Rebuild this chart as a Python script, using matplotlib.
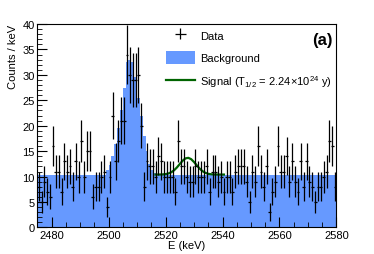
import numpy as np
import matplotlib
matplotlib.use('Agg')
import matplotlib.pyplot as plt

plt.rcParams['font.family'] = ['Liberation Sans', 'DejaVu Sans']
plt.rcParams['mathtext.fontset'] = 'custom'
plt.rcParams['mathtext.rm'] = 'Liberation Sans'
plt.rcParams['mathtext.it'] = 'Liberation Sans:italic'

# 1 keV bins from 2475 to 2580
E_LO, E_HI = 2475, 2580
counts = [8, 5, 9, 7, 6, 16, 11, 11, 7, 13,
          11, 12, 8, 13, 10, 17, 10, 15, 15, 6,
          8, 8, 10, 11, 4, 10, 22, 13, 17, 21,
          21, 34, 30, 29, 29, 30, 20, 8, 13, 12,
          12, 10, 14, 13, 10, 10, 10, 10, 7, 17,
          12, 12, 10, 9, 9, 12, 10, 10, 10, 12,
          7, 11, 11, 9, 10, 7, 10, 10, 7, 11,
          12, 12, 12, 9, 5, 11, 9, 16, 11, 8,
          12, 3, 7, 9, 16, 11, 11, 14, 9, 13,
          9, 7, 13, 8, 13, 9, 8, 5, 8, 8,
          10, 11, 17, 16, 8]

# background: flat level with the peak around 2506 keV (bins 2499..2516)
bg_level = 10.4
bg_peak_start = 2499
bg_peak = [11.3, 12.3, 14.0, 16.5, 19.5, 23.0, 27.5, 32.5, 33.0, 32.5,
           29.5, 25.5, 22.0, 18.0, 15.0, 12.5, 11.3, 10.7]

# signal curve (background + signal)
sig_e = [2516.5, 2518, 2519, 2520, 2521, 2522, 2523, 2524, 2525, 2526, 2527,
         2528, 2529, 2530, 2531, 2532, 2533, 2534, 2535, 2536, 2537, 2538, 2540.5]
sig_y = [10.40, 10.41, 10.43, 10.49, 10.61, 10.85, 11.24, 11.80, 12.47, 13.12, 13.58,
         13.69, 13.43, 12.87, 12.20, 11.56, 11.06, 10.74, 10.55, 10.46, 10.42, 10.41, 10.40]

edges = np.arange(E_LO, E_HI + 1)
centers = edges[:-1] + 0.5
counts = np.array(counts, dtype=float)
bg = np.full(len(centers), bg_level)
i0 = bg_peak_start - E_LO
bg[i0:i0 + len(bg_peak)] = bg_peak

fig = plt.figure(figsize=(3.74, 2.55), dpi=100)
ax = fig.add_axes([0.0997, 0.104, 0.8, 0.798])

ax.stairs(bg, edges, fill=True, color='#6699ff', lw=0, label='Background')
ax.plot(sig_e, sig_y, '-', color='#006400', lw=1.6,
        label=r'Signal (T$_{\mathrm{1/2}}$ = 2.24$\times$10$^{\mathrm{24}}$ y)')
eb = ax.errorbar(centers, counts, xerr=0.5, yerr=np.sqrt(counts), fmt='none',
                 ecolor='black', elinewidth=0.9, capsize=0, label='Data')

ax.set_xlim(E_LO, E_HI)
ax.set_ylim(0, 40)
ax.set_xticks(np.arange(2480, 2581, 20))
ax.set_xticks(np.arange(2475, 2581, 5), minor=True)
ax.set_yticks(np.arange(0, 41, 5))
ax.set_yticks(np.arange(0, 41, 1), minor=True)
ax.tick_params(which='both', direction='in', labelsize=8, pad=2)
ax.tick_params(which='major', length=7, width=0.8)
ax.tick_params(which='minor', length=3.5, width=0.6)
for s in ax.spines.values():
    s.set_linewidth(0.8)

ax.set_xlabel('E (keV)', fontsize=8, labelpad=0)
ax.set_ylabel('Counts / keV', fontsize=8, loc='top', labelpad=3)

h, l = ax.get_legend_handles_labels()
hd = dict(zip(l, h))
sig_label = [k for k in l if k.startswith('Signal')][0]
order = ['Data', 'Background', sig_label]
ax.legend([hd[k] for k in order], order, loc='upper left',
          bbox_to_anchor=(158 / 374, 1 - 22 / 255), bbox_transform=fig.transFigure,
          frameon=False, fontsize=8, handlelength=2.6, handleheight=1.45,
          handletextpad=0.45, labelspacing=0.8, borderpad=0.2)

fig.text(333 / 374, 1 - 40 / 255, '(a)', fontsize=12, fontweight='bold',
         ha='right', va='center')

fig.savefig('out.png', dpi=100)
